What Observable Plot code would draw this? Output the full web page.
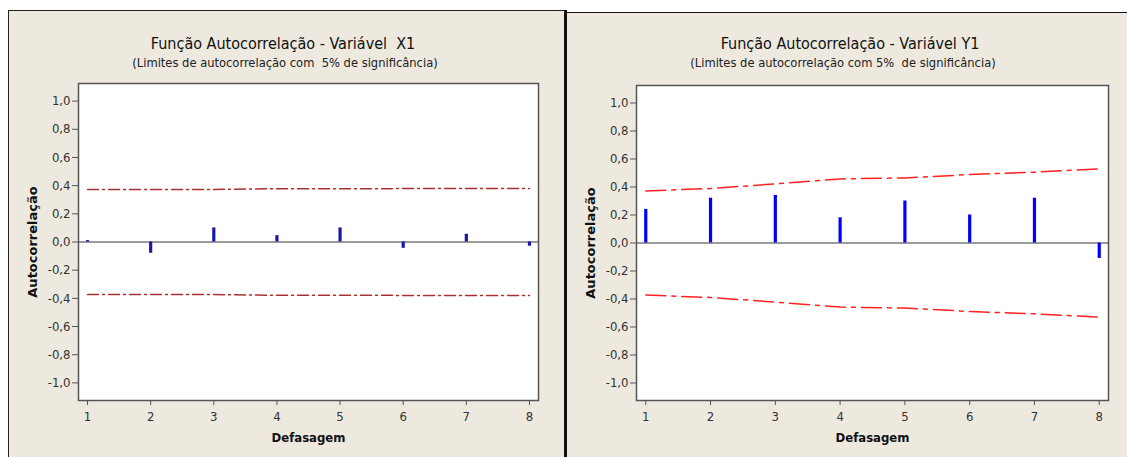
<!DOCTYPE html>
<html>
<head>
<meta charset="utf-8">
<script src="https://cdn.jsdelivr.net/npm/d3@7"></script>
<script src="https://cdn.jsdelivr.net/npm/@observablehq/plot@0.6"></script>
<style>
  body { margin: 0; background: #ffffff; }
  #wrap { position: relative; width: 1127px; height: 457px; overflow: hidden;
          font-family: "DejaVu Sans Condensed", "DejaVu Sans", sans-serif; }
  .panel { position: absolute; background: #EDE9DF; }
  .title { position: absolute; width: 440px; text-align: center; white-space: nowrap; color: #111; }
  .t1 { font-size: 16px; line-height: 18px; }
  .t2 { font-size: 12.8px; line-height: 14px; color: #222; }
  .chart { position: absolute; top: 0; }
</style>
</head>
<body>
<div id="wrap">
  <div class="panel" style="left:8px; top:10px; width:557px; height:447px; border-top:1px solid #222; border-left:1px solid #222;"></div>
  <div class="panel" style="left:567px; top:12px; width:560px; height:445px; border-top:1.5px solid #111;"></div>
  <div style="position:absolute; left:564px; top:10px; width:3px; height:447px; background:#111;"></div>
  <div class="title t1" style="left:63px; top:35px;">Função Autocorrelação - Variável&nbsp; X1</div>
  <div class="title t2" style="left:65px; top:56px;">(Limites de autocorrelação com&nbsp; 5% de significância)</div>
  <div class="title t1" style="left:630px; top:35px;">Função Autocorrelação - Variável Y1</div>
  <div class="title t2" style="left:623px; top:56px;">(Limites de autocorrelação com 5%&nbsp; de significância)</div>
  <div id="left" class="chart" style="left:0px;"></div>
  <div id="right" class="chart" style="left:567px;"></div>
</div>
<script>
// ---- data ----
const lags = [1, 2, 3, 4, 5, 6, 7, 8];
const acfX1 = [0.01, -0.08, 0.10, 0.045, 0.10, -0.045, 0.055, -0.03];
const limitX1 = [0.372, 0.372, 0.373, 0.378, 0.378, 0.379, 0.379, 0.379];
const acfY1 = [0.24, 0.32, 0.34, 0.18, 0.30, 0.20, 0.32, -0.11];
const limitY1 = [0.372, 0.389, 0.422, 0.458, 0.465, 0.489, 0.506, 0.53];
const yTicks = [-1.0, -0.8, -0.6, -0.4, -0.2, 0.0, 0.2, 0.4, 0.6, 0.8, 1.0];
const xLabel = "Defasagem";
const yLabel = "Autocorrelação";

function makeChart(acf, limit, cfg) {
  const rows = lags.map((l, i) => ({lag: l, r: acf[i], up: limit[i], lo: -limit[i]}));
  return Plot.plot({
    width: cfg.width, height: 457,
    marginLeft: cfg.ml, marginRight: cfg.mr, marginTop: cfg.mt, marginBottom: 57,
    style: {background: "transparent", fontSize: "13px",
            fontFamily: "'DejaVu Sans Condensed', 'DejaVu Sans', sans-serif"},
    x: {domain: [0.857, 8.143]},
    y: {domain: [-1.125, 1.125]},
    marks: [
      Plot.frame({fill: "white", stroke: "none"}),
      Plot.ruleY([0], {stroke: "#7a7a7a", strokeWidth: 1.5}),
      Plot.line(rows, {x: "lag", y: "up", stroke: cfg.limColor, strokeWidth: 1.5, strokeDasharray: cfg.dash}),
      Plot.line(rows, {x: "lag", y: "lo", stroke: cfg.limColor, strokeWidth: 1.5, strokeDasharray: cfg.dash}),
      Plot.ruleX(rows, {x: "lag", y1: 0, y2: "r", stroke: cfg.barColor, strokeWidth: 3.2}),
      Plot.frame({stroke: "#555", strokeWidth: 1.5}),
      Plot.axisY({ticks: yTicks, tickFormat: d => d.toFixed(1).replace(".", ","), tickSize: 6, tickPadding: 2,
                  fontSize: 13, fill: "#333", stroke: "#555", label: null}),
      Plot.axisX({ticks: lags, tickFormat: d => String(d), tickSize: 5, tickPadding: 6,
                  fontSize: 13, fill: "#333", stroke: "#555", label: null}),
      Plot.text([yLabel], {frameAnchor: "left", dx: -46, rotate: -90, text: d => d,
                  textAnchor: "middle", lineAnchor: "middle",
                  fontSize: 13, fontWeight: "bold", fontFamily: "'DejaVu Sans', sans-serif", fill: "#111"}),
      Plot.text([xLabel], {frameAnchor: "bottom", dy: 37, text: d => d,
                  textAnchor: "middle", lineAnchor: "middle",
                  fontSize: 13, fontWeight: "bold", fill: "#111"})
    ]
  });
}

document.getElementById("left").append(makeChart(acfX1, limitX1, {
  width: 565, ml: 78, mr: 27, mt: 83, barColor: "#1818a6", limColor: "#a83232", dash: "11,4,2,4"
}));
document.getElementById("right").append(makeChart(acfY1, limitY1, {
  width: 560, ml: 69, mr: 19, mt: 85, barColor: "#0000ff", limColor: "#ff2020", dash: "20,6,4,6"
}));
</script>
</body>
</html>
